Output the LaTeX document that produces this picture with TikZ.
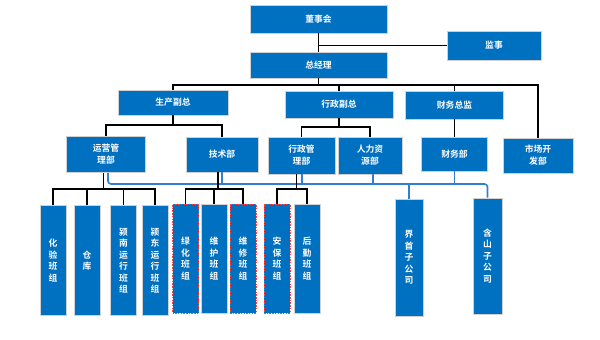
\documentclass[tikz,border=0pt]{standalone}
\usepackage{fontspec}
\setmainfont{Noto Sans CJK SC}[BoldFont={* Bold}]
\definecolor{boxblue}{HTML}{0070C0}
\definecolor{lineblue}{HTML}{2F80D0}
\begin{document}
\begin{tikzpicture}[x=1pt,y=-1pt,
  box/.style={fill=boxblue, draw=black!18, line width=0.7pt, text=white,
    font=\fontsize{8.8}{12}\selectfont\bfseries, align=center, inner sep=0pt},
  vbox/.style={box, minimum width=26pt, minimum height=110pt,
    font=\fontsize{8.8}{11.5}\selectfont\bfseries},
  redbox/.style={draw=red!75, dashed, dash pattern=on 1.5pt off 1.2pt},
  conn/.style={draw=black, line width=1.5pt},
  bconn/.style={draw=lineblue, line width=1.6pt}]
\useasboundingbox (0,0) rectangle (600,340);

% top levels
\node[box, minimum width=137pt, minimum height=28pt] (dsh) at (318.5,19) {董事会};
\node[box, minimum width=94pt, minimum height=29pt] (js) at (494,45.5) {监事};
\node[box, minimum width=137pt, minimum height=26pt] (zjl) at (318.5,65) {总经理};
\node[box, minimum width=110pt, minimum height=25pt] (sc) at (173,102.5) {生产副总};
\node[box, minimum width=108pt, minimum height=27pt] (xz) at (339,104.5) {行政副总};
\node[box, minimum width=98pt, minimum height=28pt] (cw) at (454.5,105) {财务总监};

% departments
\node[box, minimum width=79pt, minimum height=36pt] (yy) at (106,154.5) {运营管\\理部};
\node[box, minimum width=72pt, minimum height=35pt] (jsb) at (222,154.5) {技术部};
\node[box, minimum width=67pt, minimum height=37pt] (xzgl) at (301.5,155.5) {行政管\\理部};
\node[box, minimum width=64pt, minimum height=37pt] (rl) at (370,155.5) {人力资\\源部};
\node[box, minimum width=66pt, minimum height=34pt] (cwb) at (454.5,154) {财务部};
\node[box, minimum width=70pt, minimum height=35pt] (scb) at (538,155.5) {市场开\\发部};

% teams
\node[vbox] (b1) at (53,260.5) {化\\验\\班\\组};
\node[vbox] (b2) at (87,260.5) {仓\\库};
\node[vbox] (b3) at (123.5,260.5) {颍\\南\\运\\行\\班\\组};
\node[vbox] (b4) at (155,260.5) {颍\\东\\运\\行\\班\\组};
\node[vbox, redbox, minimum height=109pt] (b5) at (185.5,258.5) {绿\\化\\班\\组};
\node[vbox, minimum height=109pt] (b6) at (214,258.5) {维\\护\\班\\组};
\node[vbox, redbox, minimum height=109pt] (b7) at (243,258.5) {维\\修\\班\\组};
\node[vbox, redbox, minimum height=109pt] (b8) at (277,258.5) {安\\保\\班\\组};
\node[vbox, minimum height=109pt] (b9) at (307,258.5) {后\\勤\\班\\组};
\node[vbox, minimum width=28pt, minimum height=117pt] (jsh) at (409,257.5) {界\\首\\子\\公\\司};
\node[vbox, minimum width=29pt, minimum height=116pt] (hs) at (487.5,256) {含\\山\\子\\公\\司};

\coordinate (ya) at (0,85);
\coordinate (yb) at (0,125);
\coordinate (yc) at (0,127);
\coordinate (ye) at (0,184);
\coordinate (yd) at (0,189);

% upper connectors
\draw[conn] (dsh) -- (zjl);
\draw[conn] (js.west) -- (js.west -| dsh.south);
\draw[conn] (zjl.south) -- (zjl.south |- ya);
\draw[conn] (sc.north) |- (scb.north |- ya) -- (scb.north);
\draw[conn] (xz.north) -- (xz.north |- ya);
\draw[conn] (cw.north) -- (cw.north |- ya);
\draw[conn] (sc.south) -- (sc.south |- yb);
\draw[conn] (yy.north) |- (jsb.north |- yb) -- (jsb.north);
\draw[conn] (xz.south) -- (xz.south |- yc);
\draw[conn] (xzgl.north) |- (rl.north |- yc) -- (rl.north);
\draw[conn] (cw.south) -- (cwb.north);

% blue connectors
\draw[bconn, rounded corners=3pt] ([xshift=2pt]yy.south) |- (hs.north |- ye) -- (hs.north);
\draw[bconn] (jsb.south) -- (jsb.south |- ye);
\draw[bconn] ([xshift=0.5pt]xzgl.south) -- ([xshift=0.5pt]xzgl.south |- ye);
\draw[bconn] ([xshift=3pt]rl.south) -- ([xshift=3pt]rl.south |- ye);
\draw[bconn] (cwb.south) -- (cwb.south |- ye);
\draw[bconn] (jsh.north) -- (jsh.north |- ye);

% lower black connectors
\draw[conn] ([xshift=-2.5pt]yy.south) -- ([xshift=-2.5pt]yy.south |- yd);
\draw[conn] (b1.north) |- (b4.north |- yd) -- (b4.north);
\draw[conn] (b2.north) -- (b2.north |- yd);
\draw[conn] (b3.north) -- (b3.north |- yd);
\draw[conn] ([xshift=-4pt]jsb.south) -- ([xshift=-4pt]jsb.south |- yd);
\draw[conn] (b5.north) |- (b7.north |- yd) -- (b7.north);
\draw[conn] (b6.north) -- (b6.north |- yd);
\draw[conn] ([xshift=-5pt]xzgl.south) -- ([xshift=-5pt]xzgl.south |- yd);
\draw[conn] (b8.north) |- (b9.north |- yd) -- (b9.north);
\end{tikzpicture}
\end{document}
